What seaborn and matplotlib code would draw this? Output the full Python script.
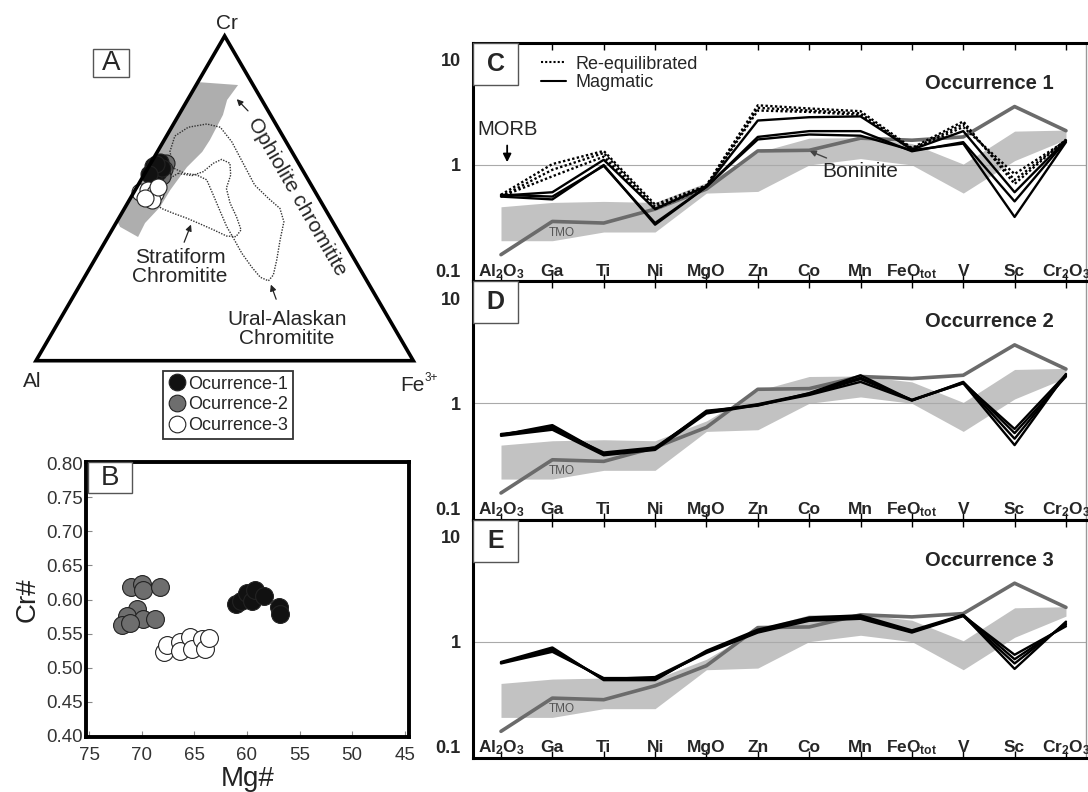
import numpy as np
import pandas as pd
import seaborn as sns
import matplotlib.pyplot as plt
from matplotlib.lines import Line2D
from matplotlib.patches import Polygon, Rectangle
from matplotlib.ticker import NullLocator

sns.set_style('white')
plt.rcParams['font.family'] = ['Liberation Sans', 'DejaVu Sans']
plt.rcParams['mathtext.default'] = 'regular'

# ---------------- data ----------------
# spider diagrams, normalised to MORB
elements = ['Al$_2$O$_3$', 'Ga', 'Ti', 'Ni', 'MgO', 'Zn', 'Co', 'Mn',
            'FeO$_{tot}$', 'V', 'Sc', 'Cr$_2$O$_3$']
band_hi = [0.40, 0.44, 0.45, 0.44, 0.68, 1.32, 1.80, 1.82, 1.60, 1.02, 2.10, 2.15]
band_lo = [0.19, 0.19, 0.23, 0.23, 0.54, 0.56, 1.00, 1.15, 1.00, 0.54, 1.10, 1.75]
grey_line = [0.14, 0.29, 0.28, 0.38, 0.59, 1.36, 1.38, 1.80, 1.72, 1.85, 3.60, 2.12]

occ1_magmatic = [
    [0.50, 0.47, 1.00, 0.27, 0.62, 1.85, 2.10, 2.10, 1.35, 1.65, 0.45, 1.70],
    [0.52, 0.50, 0.98, 0.28, 0.62, 1.75, 1.95, 1.90, 1.38, 1.60, 0.32, 1.65],
    [0.51, 0.55, 1.12, 0.38, 0.63, 2.65, 2.85, 2.90, 1.40, 2.10, 0.55, 1.72],
]
occ1_reequil = [
    [0.50, 0.78, 1.20, 0.38, 0.62, 3.30, 3.20, 3.00, 1.40, 2.30, 0.82, 1.70],
    [0.50, 0.90, 1.30, 0.40, 0.63, 3.50, 3.30, 3.10, 1.42, 2.45, 0.72, 1.72],
    [0.52, 1.02, 1.36, 0.42, 0.64, 3.70, 3.45, 3.25, 1.45, 2.60, 0.66, 1.75],
]
occ2_lines = [
    [0.50, 0.62, 0.33, 0.37, 0.85, 0.95, 1.25, 1.85, 1.07, 1.55, 0.40, 1.90],
    [0.51, 0.58, 0.34, 0.38, 0.82, 0.97, 1.22, 1.70, 1.08, 1.58, 0.46, 1.85],
    [0.49, 0.56, 0.32, 0.36, 0.80, 0.96, 1.20, 1.60, 1.06, 1.60, 0.52, 1.80],
    [0.50, 0.60, 0.33, 0.37, 0.83, 0.98, 1.24, 1.75, 1.07, 1.56, 0.57, 1.88],
]
occ3_lines = [
    [0.63, 0.85, 0.44, 0.44, 0.80, 1.26, 1.62, 1.72, 1.25, 1.78, 0.55, 1.55],
    [0.62, 0.80, 0.45, 0.45, 0.78, 1.22, 1.58, 1.65, 1.22, 1.75, 0.62, 1.50],
    [0.64, 0.88, 0.43, 0.43, 0.82, 1.30, 1.70, 1.78, 1.28, 1.80, 0.68, 1.45],
    [0.63, 0.83, 0.44, 0.46, 0.80, 1.24, 1.64, 1.70, 1.24, 1.77, 0.75, 1.40],
]

# Cr# vs Mg# (panel B)
mg_occ1 = [61.0, 60.6, 60.0, 59.5, 59.2, 58.4, 57.0, 56.9]
cr_occ1 = [0.594, 0.598, 0.610, 0.598, 0.614, 0.605, 0.589, 0.579]
mg_occ2 = [71.0, 70.0, 69.9, 68.3, 70.5, 71.4, 71.9, 69.9, 68.7, 71.1]
cr_occ2 = [0.618, 0.623, 0.614, 0.618, 0.586, 0.576, 0.562, 0.572, 0.572, 0.565]
mg_occ3 = [67.9, 67.6, 66.4, 66.4, 65.4, 65.2, 64.3, 64.0, 63.6]
cr_occ3 = [0.523, 0.533, 0.538, 0.525, 0.545, 0.528, 0.542, 0.528, 0.543]

# ternary Cr - Al - Fe3+ (fractions of Cr and Fe3+, Al is the rest)
tern_cr_occ1 = [0.600, 0.612, 0.581, 0.563, 0.593, 0.605, 0.575]
tern_fe_occ1 = [0.010, 0.023, 0.033, 0.029, 0.037, 0.015, 0.012]
tern_cr_occ2 = [0.610, 0.590, 0.570]
tern_fe_occ2 = [0.040, 0.045, 0.050]
tern_cr_occ3 = [0.519, 0.526, 0.516, 0.495, 0.501, 0.536]
tern_fe_occ3 = [0.016, 0.034, 0.057, 0.060, 0.039, 0.055]

ophiolite_cr = [0.858, 0.849, 0.803, 0.757, 0.680, 0.643, 0.596, 0.525, 0.473, 0.424, 0.381, 0.412, 0.430]
ophiolite_fe = [0.0, 0.111, 0.105, 0.117, 0.121, 0.119, 0.102, 0.093, 0.092, 0.077, 0.080, 0.017, 0.0]
ural_cr = [0.593, 0.644, 0.692, 0.719, 0.729, 0.719, 0.674, 0.608, 0.541, 0.500, 0.469, 0.428, 0.372,
           0.310, 0.264, 0.246, 0.257, 0.288, 0.331, 0.377, 0.413, 0.459, 0.510, 0.557, 0.572, 0.577, 0.593]
ural_fe = [0.068, 0.033, 0.022, 0.044, 0.088, 0.129, 0.182, 0.245, 0.309, 0.366, 0.412, 0.443, 0.461,
           0.483, 0.497, 0.493, 0.466, 0.428, 0.380, 0.335, 0.299, 0.259, 0.215, 0.174, 0.140, 0.106, 0.068]
strat_cr = [0.577, 0.570, 0.582, 0.608, 0.620, 0.608, 0.572, 0.531, 0.485, 0.443, 0.403, 0.382, 0.384,
            0.403, 0.421, 0.439, 0.454, 0.469, 0.483, 0.526, 0.562, 0.577]
strat_fe = [0.088, 0.128, 0.152, 0.166, 0.182, 0.210, 0.230, 0.239, 0.272, 0.310, 0.342, 0.339, 0.313,
            0.269, 0.225, 0.180, 0.137, 0.098, 0.077, 0.070, 0.074, 0.088]

occ_names = ['Ocurrence-1', 'Ocurrence-2', 'Ocurrence-3']
occ_colors = ['#111111', '#6e6e6e', 'white']

W, H = 1088, 792
fig = plt.figure(figsize=(W / 100, H / 100), dpi=100)


def tern(cr, fe):
    cr = np.asarray(cr)
    fe = np.asarray(fe)
    return fe + cr / 2, cr * np.sqrt(3) / 2


def box_label(x0, y0, w, h, letter, size, weight='normal'):
    # little framed panel letter, given in pixels from top-left
    fig.add_artist(Rectangle((x0 / W, 1 - (y0 + h) / H), w / W, h / H,
                             transform=fig.transFigure, fc='white', ec='#555555', lw=1, zorder=10))
    fig.text((x0 + w / 2) / W, 1 - (y0 + h / 2) / H, letter, ha='center', va='center',
             fontsize=size, fontweight=weight, zorder=11)


# ---------------- panel A: ternary ----------------
axA = fig.add_axes([36 / W, 1 - 360.7 / H, 377.3 / W, 324.7 / H])
axA.set_xlim(0, 1)
axA.set_ylim(0, np.sqrt(3) / 2)
axA.axis('off')

ox, oy = tern(ophiolite_cr, ophiolite_fe)
axA.add_patch(Polygon(np.column_stack([ox, oy]), closed=True, fc='#aeaeae', ec='none', zorder=1))
for cr_, fe_ in [(ural_cr, ural_fe), (strat_cr, strat_fe)]:
    lx, ly = tern(cr_, fe_)
    axA.plot(lx, ly, color='#333333', lw=1.0, ls=(0, (1, 1)), zorder=2)

axA.add_patch(Polygon([[0, 0], [1, 0], [0.5, np.sqrt(3) / 2]], closed=True, fill=False,
                      ec='black', lw=2.6, joinstyle='miter', clip_on=False, zorder=5))

for crs, fes, col in [(tern_cr_occ2, tern_fe_occ2, occ_colors[1]),
                      (tern_cr_occ1, tern_fe_occ1, occ_colors[0]),
                      (tern_cr_occ3, tern_fe_occ3, occ_colors[2])]:
    px, py = tern(crs, fes)
    sns.scatterplot(x=px, y=py, ax=axA, color=col, edgecolor='#222222', linewidth=0.8,
                    s=150, zorder=4, clip_on=False)

axA.text(0.506, 0.90, 'Cr', ha='center', va='center', fontsize=15)
axA.text(-0.01, -0.055, 'Al', ha='center', va='center', fontsize=15)
axA.text(0.965, -0.065, 'Fe', ha='left', va='center', fontsize=15)
axA.annotate('3+', xy=(0.965, -0.065), xytext=(17.5, 5), textcoords='offset points',
             ha='left', va='center', fontsize=8.5, annotation_clip=False)
axA.text(0.692, 0.437, 'Ophiolite chromitite', rotation=-60, ha='center', va='center',
         fontsize=15, rotation_mode='anchor')
axA.annotate('', xy=(0.527, 0.703), xytext=(0.567, 0.661),
             arrowprops=dict(arrowstyle='-|>', color='#222222', lw=0.9, mutation_scale=9))
axA.text(0.382, 0.25, 'Stratiform\nChromitite', ha='center', va='center', fontsize=15,
         linespacing=1.0)
axA.annotate('', xy=(0.4135, 0.370), xytext=(0.390, 0.309),
             arrowprops=dict(arrowstyle='-|>', color='#222222', lw=0.9, mutation_scale=9))
axA.text(0.665, 0.0845, 'Ural-Alaskan\nChromitite', ha='center', va='center', fontsize=15,
         linespacing=1.0)
axA.annotate('', xy=(0.620, 0.210), xytext=(0.639, 0.157),
             arrowprops=dict(arrowstyle='-|>', color='#222222', lw=0.9, mutation_scale=9))

box_label(93, 49, 36, 28, 'A', 20)

handles = [Line2D([], [], marker='o', ls='', mfc=c, mec='#222222', mew=0.8, ms=12, label=n)
           for n, c in zip(occ_names, occ_colors)]
legA = fig.legend(handles=handles, loc='upper left', bbox_to_anchor=(163 / W, 1 - 371 / H),
                  frameon=True, fancybox=False, edgecolor='black', fontsize=13,
                  handletextpad=0.15, borderpad=0.25, labelspacing=0.22, handlelength=1.0,
                  borderaxespad=0)
legA.get_frame().set_linewidth(1.3)

# ---------------- panel B: Cr# vs Mg# ----------------
axB = fig.add_axes([86 / W, 1 - 737 / H, 323 / W, 275 / H])
for mg, cr, col in [(mg_occ2, cr_occ2, occ_colors[1]), (mg_occ3, cr_occ3, occ_colors[2]),
                    (mg_occ1, cr_occ1, occ_colors[0])]:
    sns.scatterplot(x=mg, y=cr, ax=axB, color=col, edgecolor='#222222', linewidth=0.8,
                    s=165, zorder=3)
axB.set_xlim(75.3, 44.6)
axB.set_ylim(0.398, 0.802)
axB.set_xticks([75, 70, 65, 60, 55, 50, 45])
axB.set_yticks([0.40, 0.45, 0.50, 0.55, 0.60, 0.65, 0.70, 0.75, 0.80])
axB.set_yticklabels([f'{v:.2f}' for v in axB.get_yticks()])
axB.tick_params(direction='in', length=4, width=0.8, color='#888888', labelsize=13.5,
                labelcolor='#333333', bottom=True, left=True)
axB.tick_params(axis='x', pad=7)
axB.tick_params(axis='y', pad=2)
axB.set_xlabel('Mg#', fontsize=20, labelpad=2, color='#222222')
axB.set_ylabel('Cr#', fontsize=20, labelpad=4, color='#222222')
for s in axB.spines.values():
    s.set_linewidth(2.8)
    s.set_color('black')
box_label(88, 462, 44, 31, 'B', 20)

# ---------------- panels C, D, E: spider diagrams ----------------
left_px, right_px, top_px, bot_px = 473, 1086, 43, 758
ph = (bot_px - top_px) / 3
xpos = np.arange(len(elements))
panels = [('C', 'Occurrence 1', occ1_magmatic + occ1_reequil,
           ['-'] * len(occ1_magmatic) + [(0, (1, 1))] * len(occ1_reequil)),
          ('D', 'Occurrence 2', occ2_lines, ['-'] * len(occ2_lines)),
          ('E', 'Occurrence 3', occ3_lines, ['-'] * len(occ3_lines))]

for k, (letter, title, lines, styles) in enumerate(panels):
    ptop = top_px + k * ph
    ax = fig.add_axes([left_px / W, 1 - (ptop + ph) / H, (right_px - left_px) / W, ph / H])
    ax.set_yscale('log')
    ax.fill_between(xpos, band_lo, band_hi, color='#c2c2c2', lw=0, zorder=1)
    ax.axhline(1, color='#aaaaaa', lw=0.8, zorder=1.5)
    sns.lineplot(x=xpos, y=grey_line, ax=ax, color='#6b6b6b', lw=2.6, estimator=None, zorder=2)
    for vals, ls in zip(lines, styles):
        sns.lineplot(x=xpos, y=vals, ax=ax, color='black', lw=1.7, linestyle=ls,
                     estimator=None, zorder=3)

    ax.set_xlim(-0.545, 11.39)
    ax.set_ylim(0.078, 14.5)
    ax.set_xticks(xpos)
    ax.set_xticklabels([])
    ax.tick_params(axis='x', direction='in', top=True, bottom=True, length=5, width=1.0,
                   color='black')
    ax.set_yticks([0.1, 1, 10])
    ax.set_yticklabels(['0.1', '1', '10'], fontweight='bold', fontsize=13)
    ax.yaxis.set_minor_locator(NullLocator())
    ax.tick_params(axis='y', length=0, pad=9)
    ax.set_xlabel('')
    ax.set_ylabel('')
    for side in ['left', 'top', 'bottom']:
        ax.spines[side].set_linewidth(2.2)
        ax.spines[side].set_color('black')
    ax.spines['right'].set_linewidth(1.0)
    ax.spines['right'].set_color('#999999')

    for i, lab in enumerate(elements):
        ax.text(i, 0.088, lab, ha='center', va='baseline', fontsize=12.5, fontweight='bold',
                zorder=6)
    ax.text(0.842, 0.83, title, transform=ax.transAxes, ha='center', va='center',
            fontsize=14.5, fontweight='bold')
    ax.text(1.19, 0.227, 'TMO', fontsize=8.5, color='#555555', ha='center', va='center', zorder=4)
    box_label(left_px, ptop, 45, 42, letter, 18, 'bold')

    if letter == 'C':
        leg_handles = [Line2D([], [], color='black', lw=1.5, ls=(0, (1, 1))),
                       Line2D([], [], color='black', lw=1.5)]
        ax.legend(leg_handles, ['Re-equilibrated', 'Magmatic'], loc='upper left',
                  bbox_to_anchor=(0.09, 1.0), frameon=False, fontsize=13, handlelength=1.4,
                  handletextpad=0.5, labelspacing=0.1, borderaxespad=0.3)
        ax.annotate('MORB', xy=(0.12, 1.0), xytext=(0.12, 1.75), ha='center', va='bottom',
                    fontsize=14.5,
                    arrowprops=dict(arrowstyle='-|>', color='black', lw=1.3, mutation_scale=12))
        ax.annotate('Boninite', xy=(5.96, 1.39), xytext=(6.25, 0.86), ha='left', va='center',
                    fontsize=15,
                    arrowprops=dict(arrowstyle='-|>', color='#444444', lw=1.0, mutation_scale=9))

fig.savefig('out.png', dpi=100)
